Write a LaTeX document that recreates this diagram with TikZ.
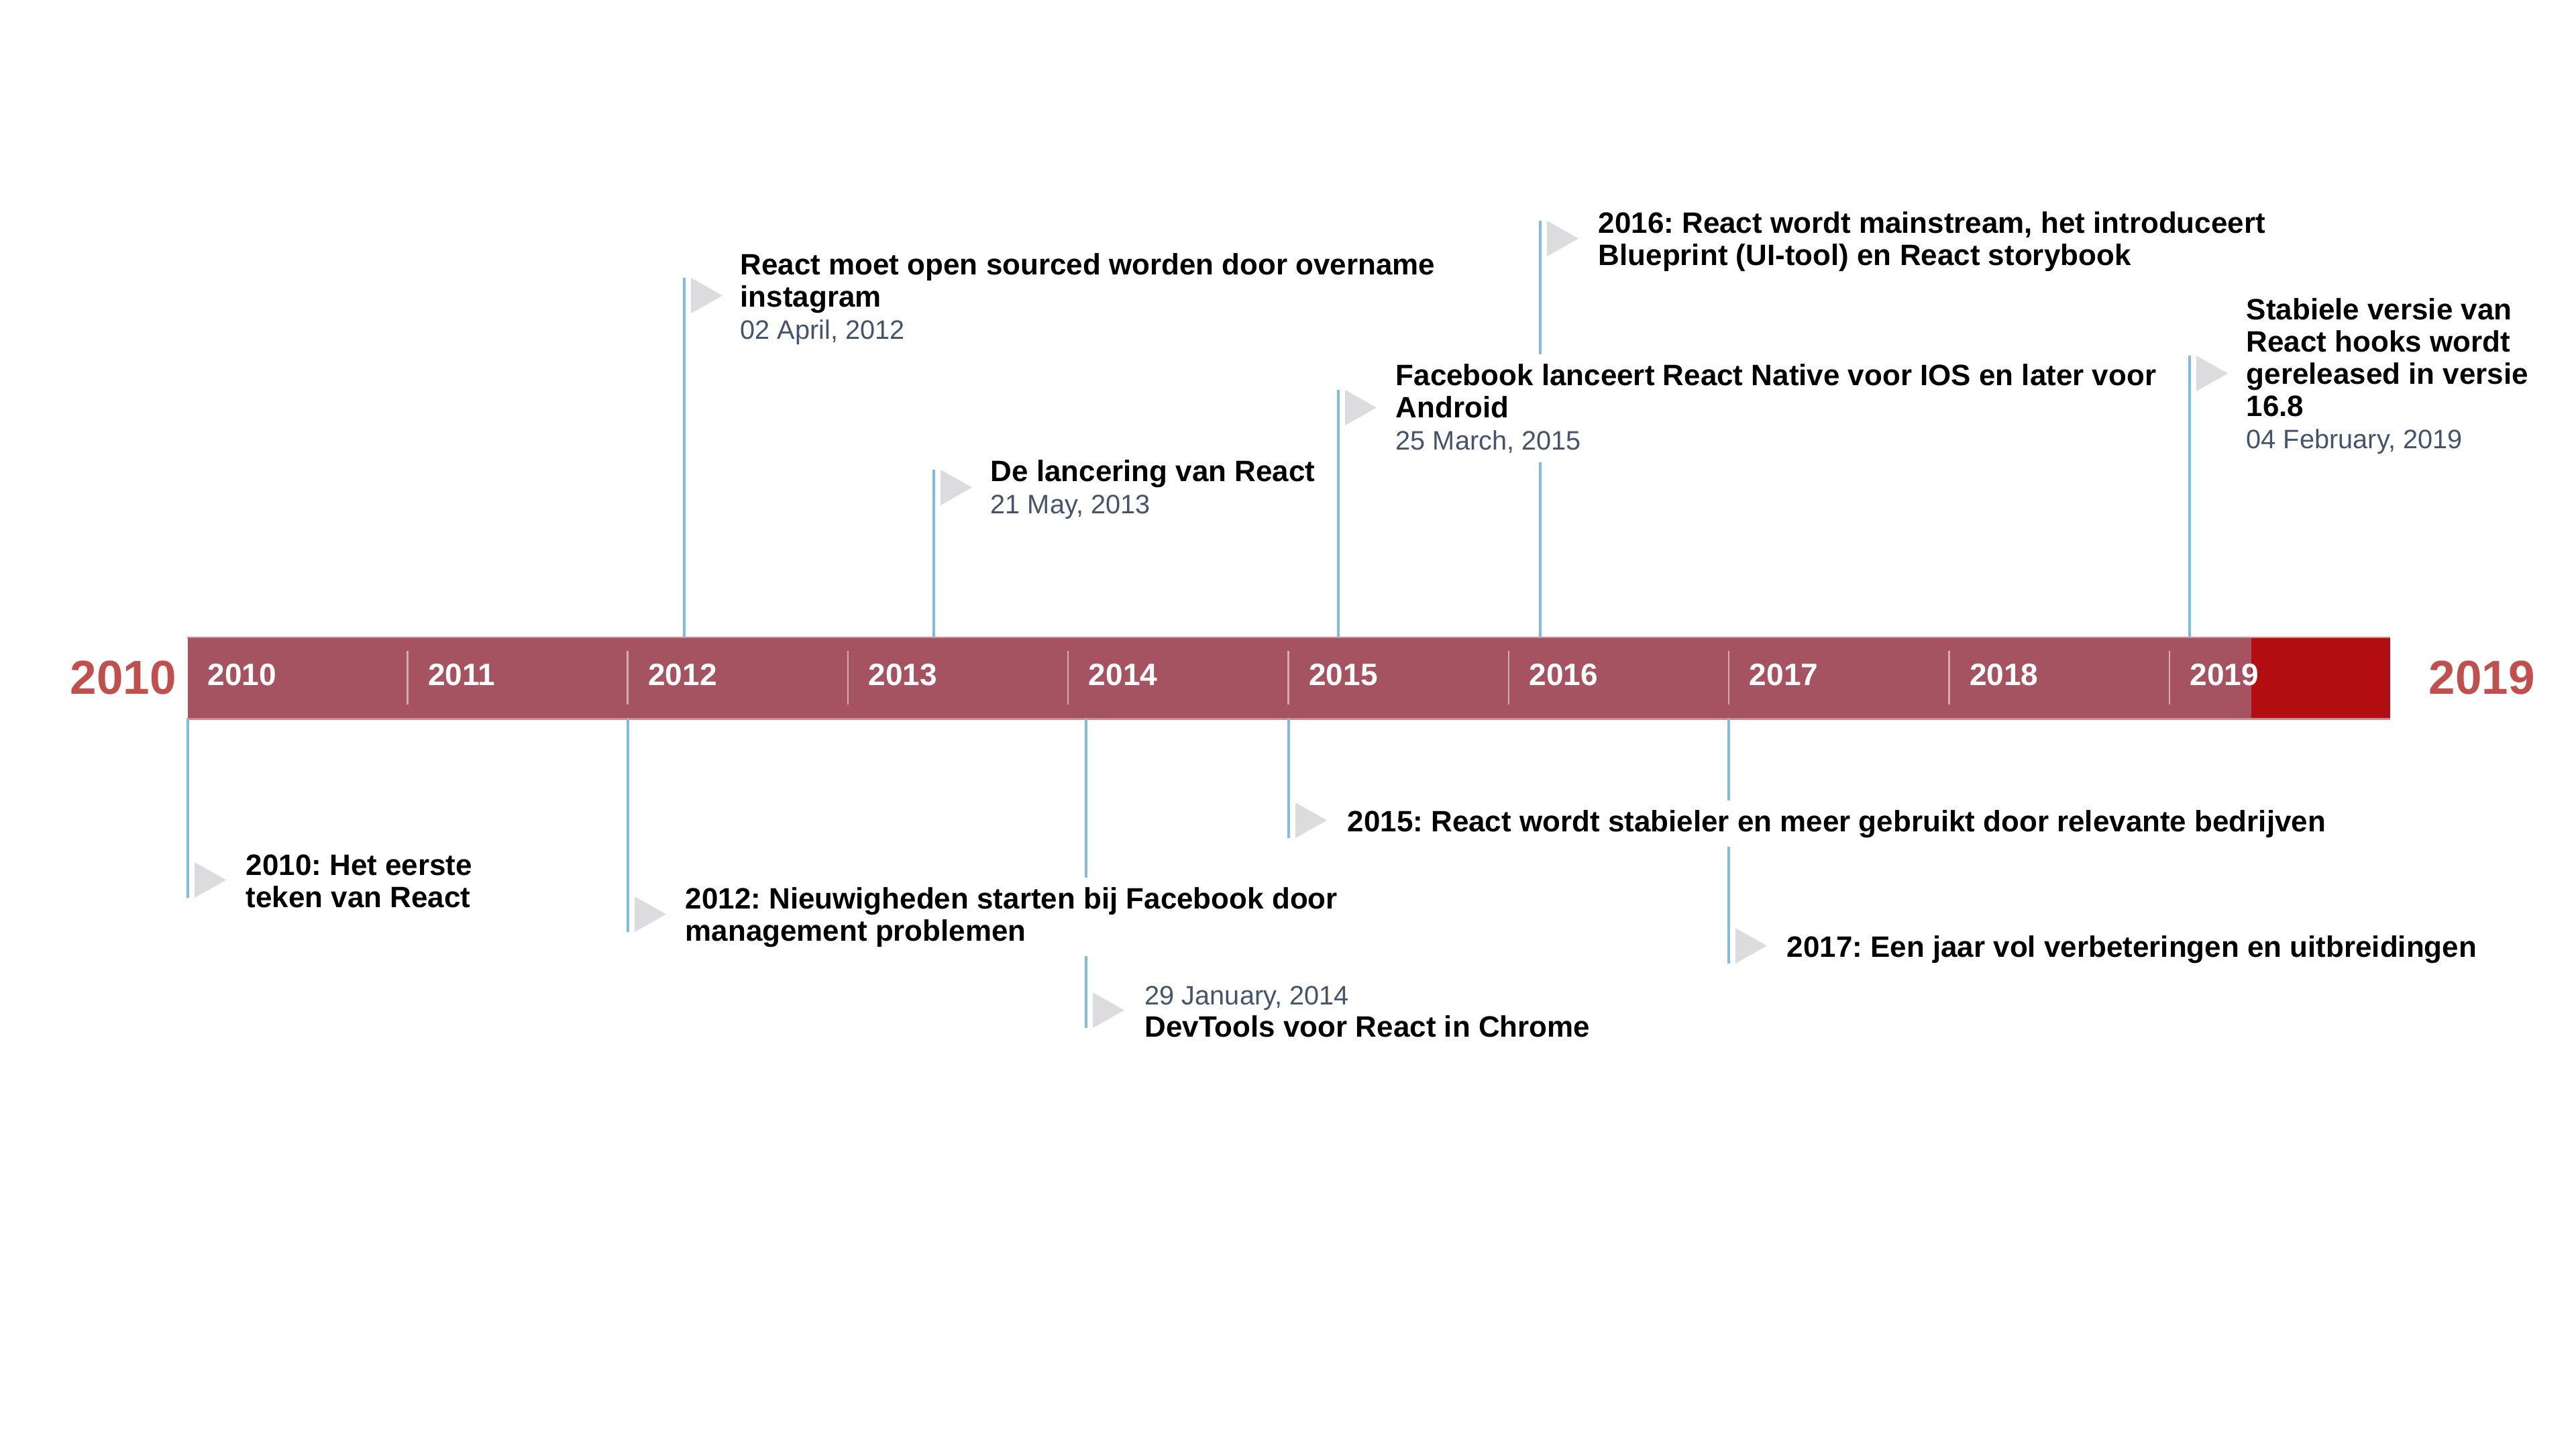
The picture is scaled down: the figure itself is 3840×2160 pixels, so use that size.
\documentclass[tikz,border=0pt]{standalone}
\usepackage{fontspec}
\setmainfont{Liberation Sans}
\usepackage{tikz}
\frenchspacing
\definecolor{barcol}{HTML}{A65361}
\definecolor{endcol}{HTML}{B20E12}
\definecolor{rimcol}{HTML}{D08A92}
\definecolor{sepcol}{HTML}{D6AAB1}
\definecolor{stemcol}{HTML}{80BCE2}
\definecolor{flagcol}{HTML}{DCDCDE}
\definecolor{datecol}{HTML}{44546A}
\definecolor{bigcol}{HTML}{C0504D}
\tikzstyle{bar}=[fill=barcol, anchor=north west, inner sep=0pt, minimum width=32.81cm, minimum height=1.2cm]
\tikzstyle{rim}=[draw=rimcol, line width=0.6pt]
\tikzstyle{sep}=[draw=sepcol, line width=0.7pt]
\tikzstyle{stem}=[draw=stemcol, line width=1.15pt]
\tikzstyle{flag}=[fill=flagcol]
\tikzstyle{yr}=[anchor=base west, inner sep=0pt, text=white, font=\fontsize{13.1}{15}\selectfont\bfseries]
\tikzstyle{bigyr}=[anchor=base west, inner sep=0pt, text=bigcol, font=\fontsize{20.2}{22}\selectfont\bfseries]
\tikzstyle{event}=[anchor=base west, inner sep=0.14cm, fill=white, align=left, font=\fontsize{12.5}{13.6}\selectfont\bfseries]
\newcommand{\evdate}[1]{{\fontsize{11.3}{13.6}\selectfont\mdseries\color{datecol}#1}}

\begin{document}
\begin{tikzpicture}[x=0.01cm, y=-0.01cm]
\useasboundingbox (0,0) rectangle (3840,2160);
% the bar
\node[bar] (bar) at (279,950) {};
\fill[endcol] (3356,950) rectangle (bar.south east);
\draw[rim] (bar.north west) -- (bar.north east);
\draw[rim] (bar.south west) -- (bar.south east);
% the dividers
\draw[sep] (607.3,970) -- (607.3,1050);
\draw[sep] (935.6,970) -- (935.6,1050);
\draw[sep] (1263.9,970) -- (1263.9,1050);
\draw[sep] (1592.2,970) -- (1592.2,1050);
\draw[sep] (1920.5,970) -- (1920.5,1050);
\draw[sep] (2248.8,970) -- (2248.8,1050);
\draw[sep] (2577.1,970) -- (2577.1,1050);
\draw[sep] (2905.4,970) -- (2905.4,1050);
\draw[sep] (3233.7,970) -- (3233.7,1050);
% the years in the bar
\node[yr] (y10) at (309,1021) {2010};
\node[yr] (y11) at (637.3,1021) {2011};
\node[yr] (y12) at (965.6,1021) {2012};
\node[yr] (y13) at (1293.9,1021) {2013};
\node[yr] (y14) at (1622.2,1021) {2014};
\node[yr] (y15) at (1950.5,1021) {2015};
\node[yr] (y16) at (2278.8,1021) {2016};
\node[yr] (y17) at (2607.1,1021) {2017};
\node[yr] (y18) at (2935.4,1021) {2018};
\node[yr] (y19) at (3263.7,1021) {2019};
% the outer years
\node[bigyr] (first) at (104,1034) {2010};
\node[bigyr] (last) at (3620,1034) {2019};
% the stem ends
\coordinate (fA1) at (1020,414);
\coordinate (fA2) at (1392,700);
\coordinate (fA3) at (1995,581);
\coordinate (fA4) at (2296,329);
\coordinate (fA5) at (3264,530);
\coordinate (fB1) at (280,1338);
\coordinate (fB2) at (936,1389);
\coordinate (fB3) at (1619,1532);
\coordinate (fB4) at (1921,1249);
\coordinate (fB5) at (2577,1436);
% the stems above
\draw[stem] (fA1) -- (fA1 |- bar.north);
\draw[stem] (fA2) -- (fA2 |- bar.north);
\draw[stem] (fA3) -- (fA3 |- bar.north);
\draw[stem] (fA4) -- (fA4 |- bar.north);
\draw[stem] (fA5) -- (fA5 |- bar.north);
% the stems below
\draw[stem] (fB1 |- bar.south) -- (fB1);
\draw[stem] (fB2 |- bar.south) -- (fB2);
\draw[stem] (fB3 |- bar.south) -- (fB3);
\draw[stem] (fB4 |- bar.south) -- (fB4);
\draw[stem] (fB5 |- bar.south) -- (fB5);
% the flags
\fill[flag] ([xshift=0.1cm]fA1) -- ++(47,26.5) -- ++(-47,26.5) -- cycle;
\fill[flag] ([xshift=0.1cm]fA2) -- ++(47,26.5) -- ++(-47,26.5) -- cycle;
\fill[flag] ([xshift=0.1cm]fA3) -- ++(47,26.5) -- ++(-47,26.5) -- cycle;
\fill[flag] ([xshift=0.1cm]fA4) -- ++(47,26.5) -- ++(-47,26.5) -- cycle;
\fill[flag] ([xshift=0.1cm]fA5) -- ++(47,26.5) -- ++(-47,26.5) -- cycle;
\fill[flag] ([xshift=0.1cm]fB1) -- ++(47,-26.5) -- ++(-47,-26.5) -- cycle;
\fill[flag] ([xshift=0.1cm]fB2) -- ++(47,-26.5) -- ++(-47,-26.5) -- cycle;
\fill[flag] ([xshift=0.1cm]fB3) -- ++(47,-26.5) -- ++(-47,-26.5) -- cycle;
\fill[flag] ([xshift=0.1cm]fB4) -- ++(47,-26.5) -- ++(-47,-26.5) -- cycle;
\fill[flag] ([xshift=0.1cm]fB5) -- ++(47,-26.5) -- ++(-47,-26.5) -- cycle;
% the events above (placed at the baseline of their last line)
\node[event] (eA1) at (1089,505) {React moet open sourced worden door overname\\instagram\\\evdate{02 April, 2012}};
\node[event] (eA2) at (1462,765) {De lancering van React\\\evdate{21 May, 2013}};
\node[event] (eA4) at (2368,395) {2016: React wordt mainstream, het introduceert\\Blueprint (UI-tool) en React storybook};
\node[event] (eA3) at (2066,670) {Facebook lanceert React Native voor IOS en later voor\\Android\\\evdate{25 March, 2015}};
\node[event] (eA5) at (3334,668) {Stabiele versie van\\React hooks wordt\\gereleased in versie\\16.8\\\evdate{04 February, 2019}};
% the events below
\node[event] (eB1) at (352,1352) {2010: Het eerste\\teken van React};
\node[event] (eB2) at (1007,1402) {2012: Nieuwigheden starten bij Facebook door\\management problemen};
\node[event] (eB3) at (1692,1545) {\evdate{29 January, 2014}\\DevTools voor React in Chrome};
\node[event] (eB4) at (1994,1239) {2015: React wordt stabieler en meer gebruikt door relevante bedrijven};
\node[event] (eB5) at (2649,1426) {2017: Een jaar vol verbeteringen en uitbreidingen};
\end{tikzpicture}
\end{document}
